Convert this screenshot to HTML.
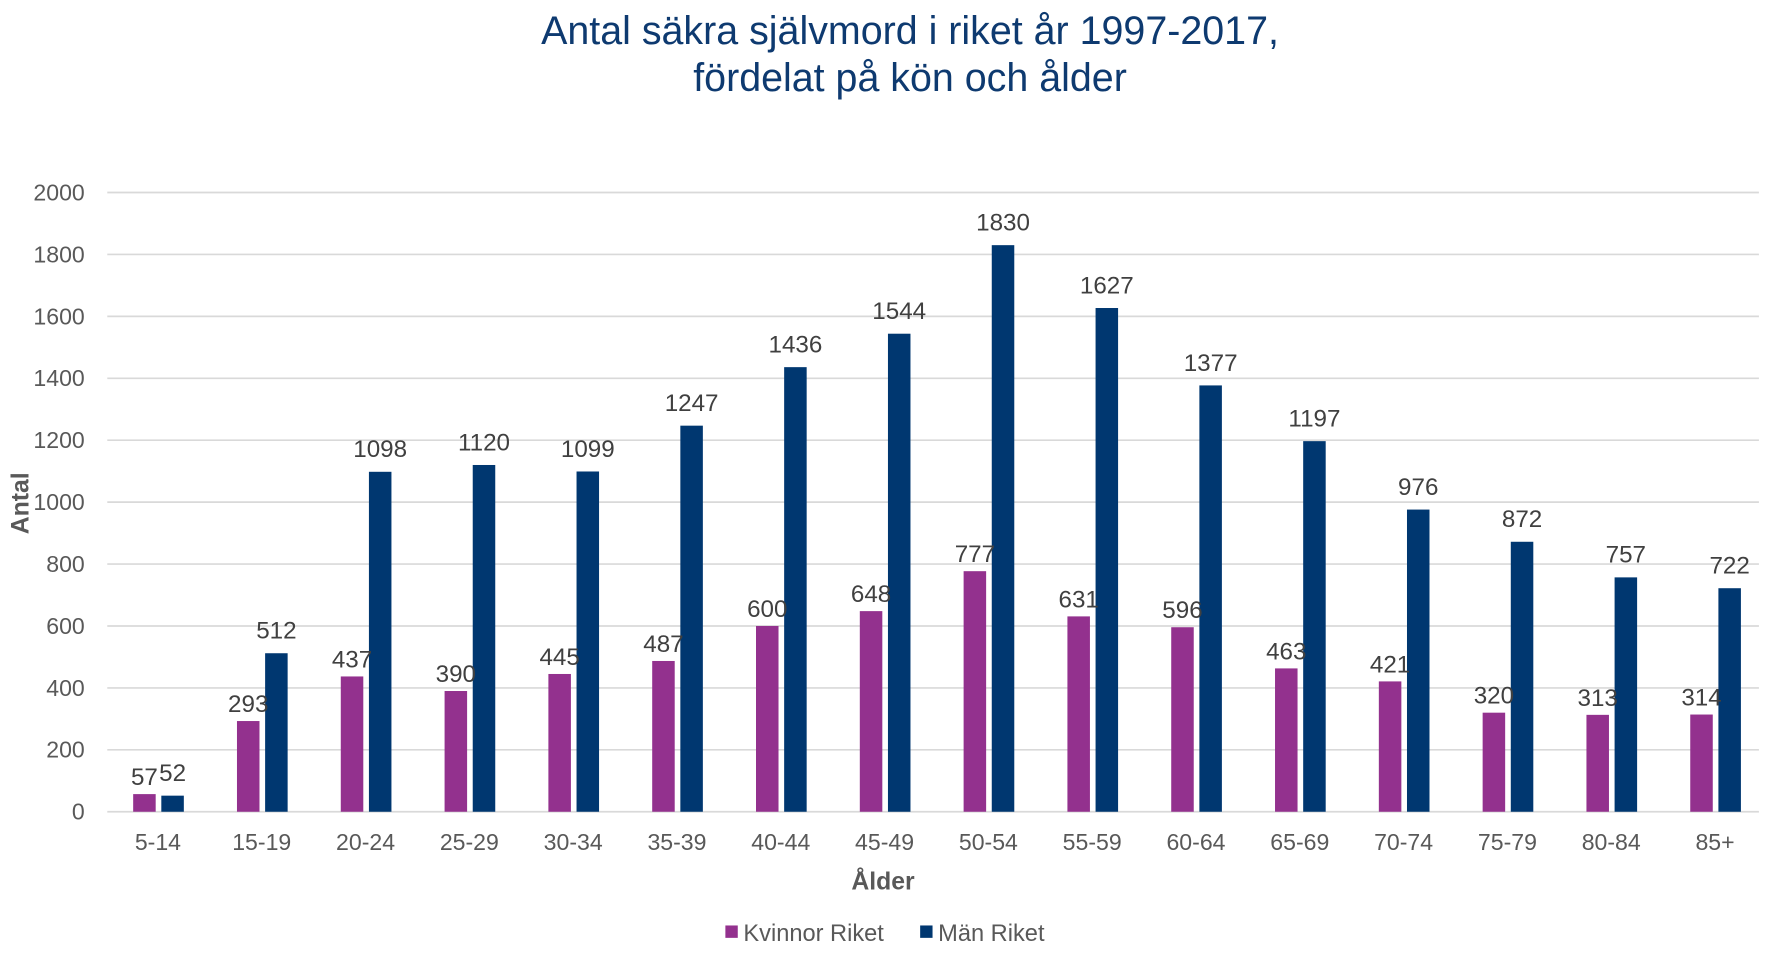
<!DOCTYPE html>
<html><head><meta charset="utf-8"><style>
html,body{margin:0;padding:0;background:#fff;}
svg{display:block;}
text{font-family:"Liberation Sans",Arial,sans-serif;}
</style></head><body>
<svg width="1766" height="966" viewBox="0 0 1568 858" xmlns="http://www.w3.org/2000/svg">
<rect width="1568" height="858" fill="#fff"/>
<text x="808" y="39" font-size="35" fill="#0E3A70" text-anchor="middle">Antal säkra självmord i riket år 1997-2017,</text>
<text x="808" y="81" font-size="35" fill="#0E3A70" text-anchor="middle">fördelat på kön och ålder</text>
<g id="grid" stroke="#d9d9d9" stroke-width="1.5"></g>
<g id="yt" font-size="20.5" fill="#595959" text-anchor="end"></g>
<g id="bars"></g>
<g id="labels" font-size="21.5" fill="#404040" text-anchor="middle"></g>
<g id="xt" font-size="20.5" fill="#595959" text-anchor="middle"></g>
<text transform="translate(25,447) rotate(-90)" font-size="22" font-weight="bold" fill="#595959" text-anchor="middle">Antal</text>
<text x="784" y="790" font-size="22" font-weight="bold" fill="#595959" text-anchor="middle">Ålder</text>
<rect x="644" y="822" width="11" height="11" fill="#93318E"/>
<text x="660" y="836" font-size="21" fill="#595959">Kvinnor Riket</text>
<rect x="817" y="822" width="11" height="11" fill="#003770"/>
<text x="833" y="836" font-size="21" fill="#595959">Män Riket</text>
</svg>
<script>
const NS="http://www.w3.org/2000/svg";
function el(p,t,a,txt){const e=document.createElementNS(NS,t);for(const k in a)e.setAttribute(k,a[k]);if(txt!==undefined)e.textContent=txt;document.getElementById(p).appendChild(e);}
const y0=721,k=550/2000;
for(let v=0;v<=2000;v+=200){const y=y0-v*k;el("grid","line",{x1:95,x2:1562,y1:y,y2:y});el("yt","text",{x:75,y:y+7},v);}
const cats=["5-14","15-19","20-24","25-29","30-34","35-39","40-44","45-49","50-54","55-59","60-64","65-69","70-74","75-79","80-84","85+"];
const w=[57,293,437,390,445,487,600,648,777,631,596,463,421,320,313,314];
const m=[52,512,1098,1120,1099,1247,1436,1544,1830,1627,1377,1197,976,872,757,722];
cats.forEach((c,i)=>{const cx=140+i*92.2;
el("xt","text",{x:cx,y:755},c);
const pw=cx-12,pm=cx+13;
el("bars","rect",{x:pw-10,y:y0-w[i]*k,width:20,height:w[i]*k,fill:"#93318E"});
el("bars","rect",{x:pm-10,y:y0-m[i]*k,width:20,height:m[i]*k,fill:"#003770"});
el("labels","text",{x:pw,y:y0-w[i]*k-8},w[i]);
el("labels","text",{x:pm,y:y0-m[i]*k-13},m[i]);
});
</script>
</body></html>
